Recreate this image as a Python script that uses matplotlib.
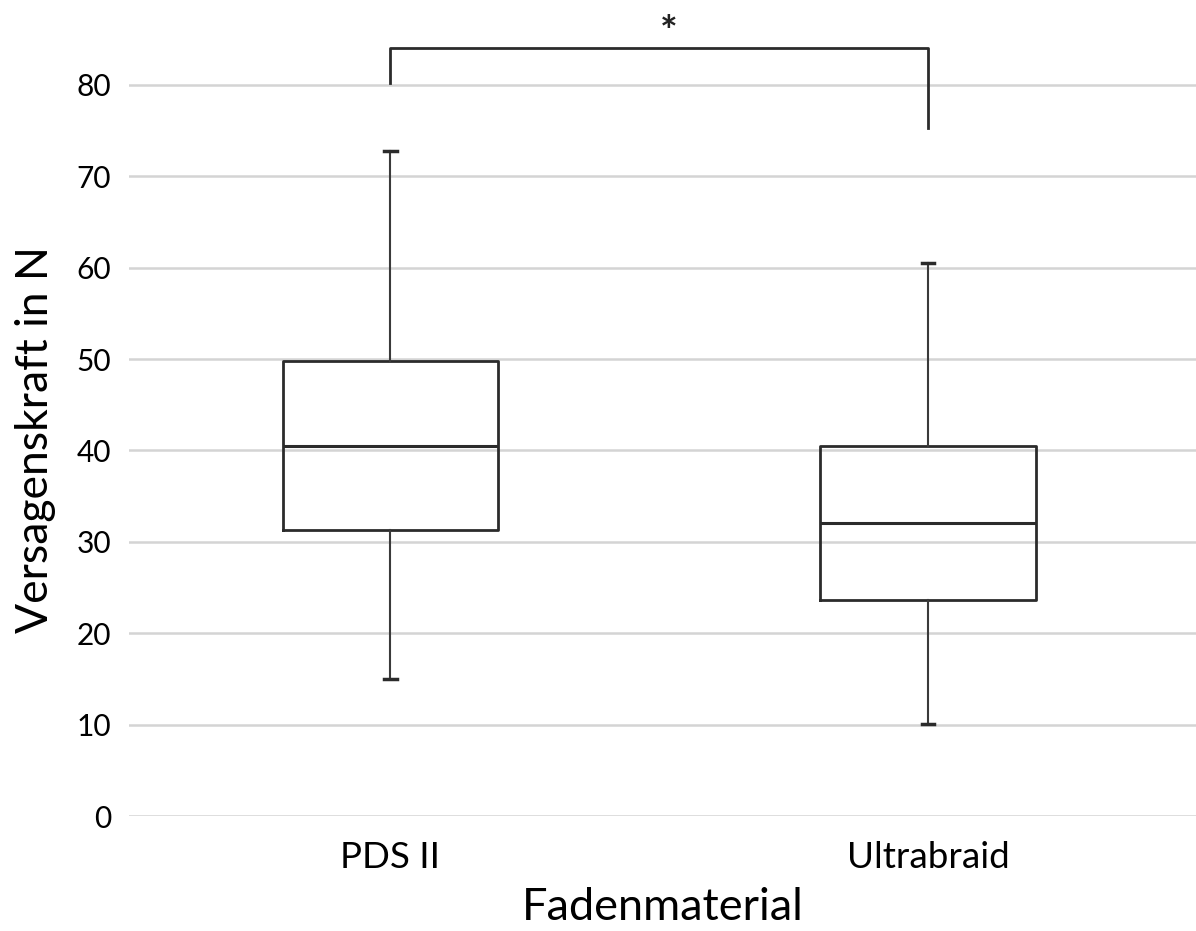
import matplotlib
matplotlib.use("Agg")
import matplotlib.pyplot as plt

plt.rcParams["font.family"] = ["Lato", "DejaVu Sans"]

# Werte
materials = ["PDS II", "Ultrabraid"]
whisker_low = [15.0, 10.1]
q1 = [31.3, 23.6]
median = [40.5, 32.1]
q3 = [49.8, 40.5]
whisker_high = [72.8, 60.5]

yticks = [0, 10, 20, 30, 40, 50, 60, 70, 80]

# Signifikanz-Klammer
bracket_top = 84.0
bracket_left_end = 80.2
bracket_right_end = 75.3
sig_label = "*"

stats = []
for i, name in enumerate(materials):
    stats.append({
        "label": name,
        "whislo": whisker_low[i],
        "q1": q1[i],
        "med": median[i],
        "q3": q3[i],
        "whishi": whisker_high[i],
        "fliers": [],
    })

fig = plt.figure(figsize=(11.96, 9.31), dpi=100)
ax = fig.add_axes([129 / 1196, 1 - 816 / 931, 1067 / 1196, 811 / 931])

positions = [1, 2]
ax.bxp(stats, positions=positions, widths=0.40, capwidths=0.024,
       boxprops=dict(color="#2b2b2b", linewidth=2.0),
       medianprops=dict(color="#2b2b2b", linewidth=2.2),
       whiskerprops=dict(color="#3a3a3a", linewidth=1.5),
       capprops=dict(color="#2b2b2b", linewidth=2.5),
       showfliers=False)

# Klammer mit Stern
ax.plot([positions[0], positions[0], positions[1], positions[1]],
        [bracket_left_end, bracket_top, bracket_top, bracket_right_end],
        color="#2b2b2b", linewidth=2.0, clip_on=False)
ax.text(1.518, 85.6, sig_label, ha="center", va="center", fontsize=30,
        fontweight="bold", color="#222222")

ax.set_xlim(0.5135, 2.4986)
ax.set_ylim(0, 88.75)
ax.set_yticks(yticks)
ax.set_xticks(positions)
ax.set_xticklabels(materials)
ax.yaxis.grid(True, color="#d4d4d4", linewidth=1.8)
ax.set_axisbelow(True)
for s in ax.spines.values():
    s.set_visible(False)
ax.tick_params(axis="y", length=0, pad=13, labelsize=21.5)
ax.tick_params(axis="x", length=0, pad=18, labelsize=26.5)

ax.set_xlabel("Fadenmaterial", fontsize=32.5, labelpad=9)
ax.set_ylabel("Versagenskraft in N", fontsize=32)
ax.yaxis.set_label_coords(-0.068, 0.464)

fig.savefig("out.png", dpi=100)
